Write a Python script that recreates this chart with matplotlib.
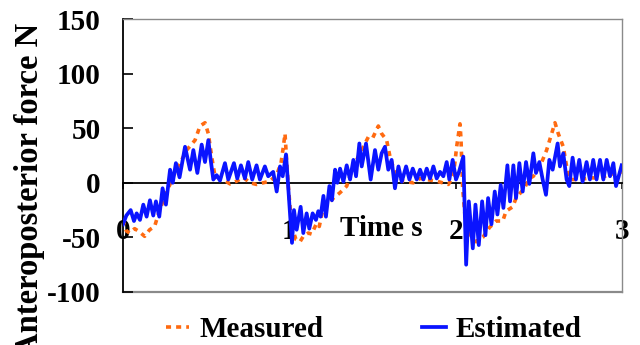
import matplotlib
matplotlib.use("Agg")
import matplotlib.pyplot as plt

# ---------------- data ----------------
meas_t = [0.000, 0.020, 0.040, 0.070, 0.100, 0.130, 0.160, 0.190, 0.220, 0.262,
          0.302, 0.353, 0.383, 0.433, 0.463, 0.493, 0.513, 0.533, 0.553, 0.603,
          0.643, 0.683, 0.723, 0.763, 0.803, 0.843, 0.883, 0.923, 0.950, 0.964,
          0.974, 0.984, 0.994, 1.014, 1.040, 1.064, 1.084, 1.114, 1.134, 1.164,
          1.180, 1.205, 1.235, 1.265, 1.305, 1.345, 1.375, 1.405, 1.445, 1.475,
          1.501, 1.535, 1.555, 1.585, 1.605, 1.635, 1.685, 1.745, 1.785, 1.825,
          1.886, 1.956, 1.986, 2.006, 2.026, 2.032, 2.042, 2.058, 2.090, 2.123,
          2.163, 2.203, 2.243, 2.283, 2.303, 2.343, 2.363, 2.413, 2.443, 2.467,
          2.507, 2.547, 2.577, 2.597, 2.617, 2.647, 2.667, 2.687, 2.747, 2.807,
          2.868, 2.928, 2.998]
meas_v = [-34, -44, -46, -42, -45, -49, -43, -40, -25, -9,
          6, 21, 30, 39, 52, 55, 45, 24, 6, 3,
          -1, 1.5, 5, 0, -1.5, 0, 1.5, 7, 18, 33,
          45, 20, -3, -40, -52, -54, -49, -46, -47, -37,
          -40, -22, -19, -14, -9, -3, 11, 21, 33, 42,
          41, 52, 45, 39, 24, 9, 1.5, 0, 4, 3,
          1.5, -1.5, 6, 33, 54, 40, -5, -34, -48, -54,
          -50, -41, -35, -35, -26, -22, -14, -5, 4, 6,
          15, 30, 45, 55, 45, 33, 15, 3, 3, 4.5,
          4.5, 7.6, 10]

est_t = [0.000, 0.020, 0.046, 0.066, 0.082, 0.102, 0.122, 0.142, 0.162, 0.182,
         0.198, 0.218, 0.238, 0.258, 0.283, 0.299, 0.318, 0.340, 0.373, 0.403,
         0.423, 0.447, 0.473, 0.493, 0.513, 0.528, 0.543, 0.563, 0.583, 0.613,
         0.633, 0.667, 0.687, 0.709, 0.733, 0.753, 0.777, 0.803, 0.823, 0.853,
         0.873, 0.903, 0.924, 0.944, 0.960, 0.980, 0.998, 1.016, 1.028, 1.044,
         1.068, 1.084, 1.104, 1.120, 1.140, 1.160, 1.174, 1.188, 1.205, 1.220,
         1.241, 1.256, 1.275, 1.289, 1.305, 1.325, 1.345, 1.365, 1.385, 1.401,
         1.421, 1.435, 1.461, 1.489, 1.515, 1.535, 1.555, 1.575, 1.595, 1.615,
         1.635, 1.656, 1.676, 1.702, 1.722, 1.742, 1.766, 1.786, 1.806, 1.826,
         1.846, 1.866, 1.886, 1.906, 1.926, 1.946, 1.962, 1.982, 2.002, 2.020,
         2.046, 2.063, 2.079, 2.103, 2.119, 2.139, 2.159, 2.179, 2.195, 2.215,
         2.235, 2.251, 2.271, 2.287, 2.311, 2.327, 2.347, 2.363, 2.383, 2.403,
         2.423, 2.443, 2.467, 2.483, 2.503, 2.523, 2.543, 2.563, 2.583, 2.613,
         2.627, 2.647, 2.667, 2.683, 2.703, 2.723, 2.743, 2.763, 2.787, 2.807,
         2.827, 2.847, 2.868, 2.888, 2.908, 2.928, 2.948, 2.964, 2.998]
est_v = [-38, -30, -25, -35, -28, -34, -20, -31, -16, -30,
         -17, -31, -5, -20, 12, 0, 18, 5, 33, 12,
         30, 9, 35, 19, 39, 20, 3, 7, 2, 18,
         3, 18, 4, 16, 4, 19, 3, 16, 3, 15,
         6, 10, -8, 15, 6, 26, -15, -55, -25, -43,
         -22, -46, -28, -42, -28, -34, -26, -31, -12, -31,
         -3, -16, 12, 0, 13, 1, 16, 3, 21, 6,
         36, 15, 36, 3, 30, 12, 27, 33, 12, 21,
         -5, 15, 1, 15, 3, 13, 3, 12, 3, 13,
         4, 15, 4, 10, 6, 19, 3, 21, 3, 10,
         24, -75, -17, -60, -20, -57, -17, -48, -14, -38,
         -8, -29, -2, -23, 16, -17, 16, -14, 18, -8,
         19, -1, 27, 9, 19, 3, -11, 21, 12, 36,
         15, 27, 3, -3, 23, 3, 21, 1, 19, 3,
         21, 3, 21, 3, 21, 6, 18, -3, 16]

y_ticks = [-100, -50, 0, 50, 100, 150]
x_ticks = [0, 1, 2, 3]
x_tick_labels = ["0", "1", "2", "3"]

# ---------------- figure ----------------
FONT = "Liberation Serif"
FS = 21
plt.rcParams["font.family"] = [FONT, "DejaVu Serif"]
plt.rcParams["font.weight"] = "bold"

fig = plt.figure(figsize=(6.4, 3.45), dpi=100)
ax = fig.add_axes([123 / 640, 1 - 292 / 345, (622 - 123) / 640, (292 - 19) / 345])

ax.plot(meas_t, meas_v, color="#FF6A10", lw=2.6, linestyle=(0, (1.4, 1.4)),
        label="Measured", zorder=3)
ax.plot(est_t, est_v, color="#0A14FF", lw=2.7, linestyle="-",
        solid_joinstyle="round", label="Estimated", zorder=4)

ax.set_xlim(0, 3)
ax.set_ylim(-100, 150)

# frame
for s in ["top", "right"]:
    ax.spines[s].set_color("#8a8a8a")
    ax.spines[s].set_linewidth(1.0)
ax.spines["left"].set_color("black")
ax.spines["left"].set_linewidth(1.3)
ax.spines["bottom"].set_position(("data", 0))
ax.spines["bottom"].set_color("black")
ax.spines["bottom"].set_linewidth(1.3)
ax.axhline(-100, color="#8a8a8a", lw=1.6, clip_on=False, zorder=1)

ax.set_yticks(y_ticks)
ax.set_yticklabels([str(v) for v in y_ticks], fontsize=FS, fontweight="bold")
ax.tick_params(axis="y", direction="in", length=7, width=1.2, pad=16)

ax.set_xticks(x_ticks)
ax.set_xticklabels(x_tick_labels, fontsize=FS, fontweight="bold")
ax.tick_params(axis="x", direction="out", length=4, width=1.2, pad=21)

ax.text(1.55, -42, "Time s", fontsize=FS, fontweight="bold",
        ha="center", va="center", zorder=5)

fig.text(30 / 640, 0.45, "Anteroposterior force N", rotation=90,
         fontsize=23.5, fontweight="bold", ha="center", va="center")

leg = fig.legend(loc="center", bbox_to_anchor=(0.584, 0.045), ncol=2,
                 frameon=False, prop={"family": FONT, "weight": "bold", "size": FS},
                 handlelength=0.8, handletextpad=0.35, columnspacing=3.4,
                 borderaxespad=0, borderpad=0)

fig.savefig("out.png", dpi=100)
